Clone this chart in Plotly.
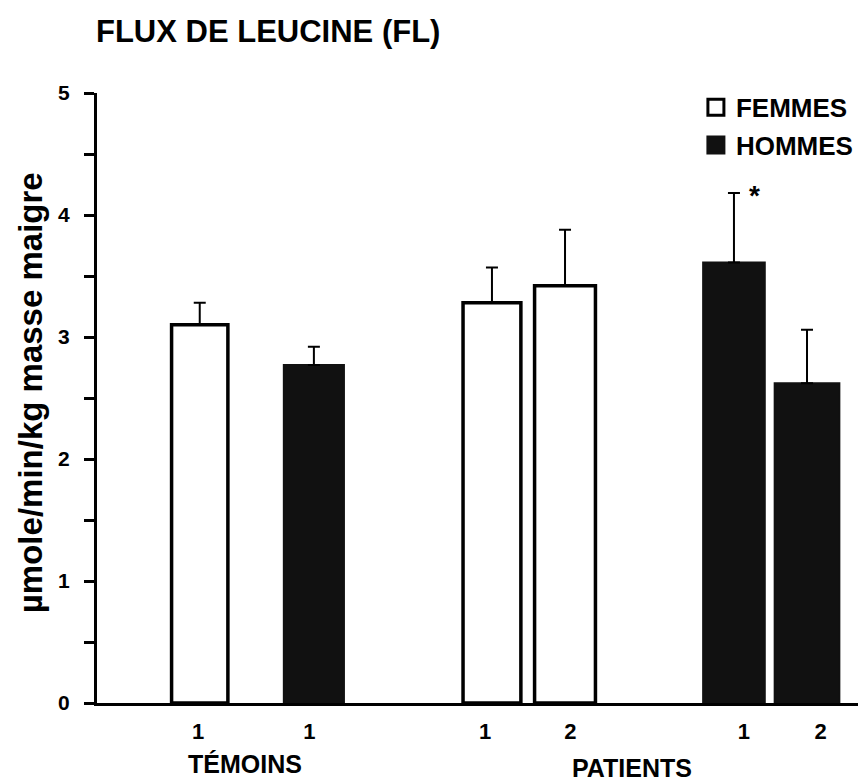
import plotly.graph_objects as go

# ---- data ----
femmes_values = [3.10, 3.28, 3.42]
femmes_err = [0.18, 0.29, 0.46]

hommes_values = [2.77, 3.61, 2.62]
hommes_err = [0.15, 0.57, 0.44]

# layout slots (x positions of bars on a 0..10 axis) and widths
femmes_pos = [1.35, 5.19, 6.15]
hommes_pos = [2.85, 8.37, 9.33]
femmes_w = [0.74, 0.76, 0.80]
hommes_w = [0.79, 0.81, 0.85]

tick_pos = [1.33, 2.79, 5.10, 6.22, 8.50, 9.51]
tick_text = ["1", "1", "1", "2", "1", "2"]

groups = ["TÉMOINS", "PATIENTS"]
group_pos = [1.94, 7.03]
group_y = [-0.100, -0.106]

y_ticks = [0, 1, 2, 3, 4, 5]

FONT = "Liberation Sans, Arial, sans-serif"
BLACK = "#111111"

fig = go.Figure()
fig.add_trace(go.Bar(
    name="FEMMES", x=femmes_pos, y=femmes_values, width=femmes_w,
    showlegend=False,
    marker=dict(color="white", line=dict(color="black", width=3.5)),
    error_y=dict(type="data", symmetric=False, array=femmes_err,
                 arrayminus=[0] * len(femmes_err), color="black",
                 thickness=2, width=6),
))
fig.add_trace(go.Bar(
    name="HOMMES", x=hommes_pos, y=hommes_values, width=hommes_w,
    showlegend=False,
    marker=dict(color=BLACK, line=dict(color=BLACK, width=2)),
    error_y=dict(type="data", symmetric=False, array=hommes_err,
                 arrayminus=[0] * len(hommes_err), color="black",
                 thickness=2, width=6),
))
# legend entries
fig.add_trace(go.Scatter(
    name="FEMMES", x=[None], y=[None], mode="markers", legendgroup="f",
    marker=dict(symbol="square", size=16, color="white",
                line=dict(color="black", width=3)),
))
fig.add_trace(go.Scatter(
    name="HOMMES", x=[None], y=[None], mode="markers", legendgroup="h",
    marker=dict(symbol="square", size=16, color=BLACK,
                line=dict(color=BLACK, width=3)),
))

annotations = []
for g, p, gy in zip(groups, group_pos, group_y):
    annotations.append(dict(x=p, y=gy, xref="x", yref="paper", text=g,
                            showarrow=False, xanchor="center", yanchor="middle",
                            font=dict(family=FONT, size=25, color="black", weight="bold")))
# significance star
annotations.append(dict(x=hommes_pos[1], y=hommes_values[1] + hommes_err[1],
                        xref="x", yref="y", text="*", showarrow=False,
                        xshift=21, yshift=-2, yanchor="middle",
                        font=dict(family=FONT, size=28, color="black", weight="bold")))
# y-axis title
annotations.append(dict(x=-0.088, y=0.508, xref="paper", yref="paper",
                        text="µmole/min/kg masse maigre", textangle=-90,
                        showarrow=False, xanchor="center", yanchor="middle",
                        font=dict(family=FONT, size=33, color="black", weight="bold")))

fig.update_layout(
    width=860, height=782,
    margin=dict(l=97, r=2, t=93, b=79),
    paper_bgcolor="white", plot_bgcolor="white",
    barmode="overlay",
    showlegend=True,
    legend=dict(x=0.787, y=1.015, xanchor="left", yanchor="top",
                font=dict(family=FONT, size=26, color="black", weight="bold"),
                itemwidth=30, tracegroupgap=1, itemsizing="trace",
                bgcolor="rgba(0,0,0,0)"),
    title=dict(text="FLUX DE LEUCINE (FL)", xref="container", yref="container",
               x=96 / 860, y=1 - 31 / 782, xanchor="left", yanchor="middle",
               font=dict(family=FONT, size=31, color="black", weight="bold")),
    annotations=annotations,
    xaxis=dict(range=[0, 10], showgrid=False, zeroline=False,
               showline=True, linecolor="black", linewidth=3,
               tickvals=tick_pos, ticktext=tick_text, ticks="",
               ticklabelstandoff=7,
               tickfont=dict(family=FONT, size=22, color="black", weight="bold")),
    yaxis=dict(range=[0, 5], showgrid=False, zeroline=False,
               showline=True, linecolor="black", linewidth=3,
               tickvals=y_ticks, ticks="outside", ticklen=10, tickwidth=3,
               tickcolor="black", ticklabelstandoff=10,
               minor=dict(dtick=0.5, ticks="outside", ticklen=10, tickwidth=3,
                          tickcolor="black"),
               tickfont=dict(family=FONT, size=21, color="black", weight="bold")),
)

fig.write_html("out.html")
